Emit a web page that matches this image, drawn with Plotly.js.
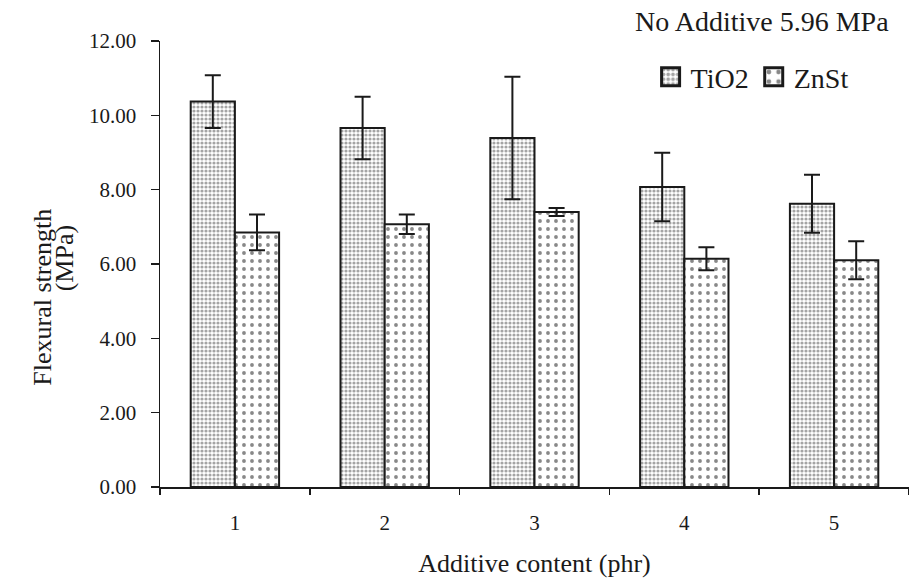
<!DOCTYPE html>
<html>
<head>
<meta charset="utf-8">
<script src="https://cdn.plot.ly/plotly-3.0.1.min.js"></script>
<style>
  html, body { margin: 0; padding: 0; background: #ffffff; }
  #chart { width: 909px; height: 578px; }
</style>
</head>
<body>
<div id="chart"></div>
<script>
// ---- data ----
var categories = ['1', '2', '3', '4', '5'];
var tio2Values = [10.37, 9.66, 9.39, 8.07, 7.62];
var tio2Errors = [0.71, 0.84, 1.65, 0.92, 0.78];
var znstValues = [6.85, 7.07, 7.40, 6.14, 6.10];
var znstErrors = [0.48, 0.26, 0.11, 0.31, 0.51];
var seriesNames = ['TiO2', 'ZnSt'];
var yTickValues = [0, 2, 4, 6, 8, 10, 12];
var xTitle = 'Additive content (phr)';
var yTitleLine1 = 'Flexural strength';
var yTitleLine2 = '(MPa)';
var noteText = 'No Additive 5.96 MPa';

var serif = "'Liberation Serif', 'Times New Roman', serif";
var ink = '#1a1a1a';

var traces = [
  {
    type: 'bar',
    name: seriesNames[0],
    x: categories,
    y: tio2Values,
    error_y: { type: 'data', array: tio2Errors, visible: true, color: ink, thickness: 2, width: 8 },
    marker: {
      color: '#ffffff',
      line: { color: ink, width: 2 },
      pattern: { shape: '.', size: 4, solidity: 0.5, fgcolor: '#4a4a4a', bgcolor: '#ffffff', fillmode: 'overlay' }
    }
  },
  {
    type: 'bar',
    name: seriesNames[1],
    x: categories,
    y: znstValues,
    error_y: { type: 'data', array: znstErrors, visible: true, color: ink, thickness: 2, width: 8 },
    marker: {
      color: '#ffffff',
      line: { color: ink, width: 2 },
      pattern: { shape: '.', size: 8, solidity: 0.18, fgcolor: '#111111', bgcolor: '#ffffff', fillmode: 'overlay' }
    }
  }
];

var layout = {
  width: 909,
  height: 578,
  margin: { l: 160, r: 0, t: 41, b: 91 },
  paper_bgcolor: '#ffffff',
  plot_bgcolor: '#ffffff',
  font: { family: serif, color: ink, size: 21 },
  barmode: 'group',
  bargap: 0.41,
  bargroupgap: 0,
  showlegend: true,
  legend: {
    orientation: 'h',
    x: 0.655, xanchor: 'left',
    y: 0.919, yanchor: 'middle',
    font: { family: serif, size: 28, color: ink },
    bgcolor: 'rgba(0,0,0,0)',
    borderwidth: 0,
    itemclick: false
  },
  xaxis: {
    type: 'category',
    tickson: 'boundaries',
    ticks: 'outside',
    ticklen: 6,
    tickwidth: 1.5,
    tickcolor: ink,
    showline: true,
    linecolor: ink,
    linewidth: 1.5,
    showgrid: false,
    zeroline: false,
    ticklabelstandoff: 16,
    tickfont: { family: serif, size: 21, color: ink },
    title: { text: xTitle, font: { family: serif, size: 26, color: ink }, standoff: 22 }
  },
  yaxis: {
    range: [0, 12],
    tickmode: 'array',
    tickvals: yTickValues,
    tickformat: '.2f',
    ticks: 'outside',
    ticklen: 8,
    tickwidth: 1.5,
    tickcolor: ink,
    showline: true,
    linecolor: ink,
    linewidth: 1.5,
    showgrid: false,
    zeroline: false,
    ticklabelstandoff: 10,
    tickfont: { family: serif, size: 21, color: ink }
  },
  annotations: [
    {
      text: yTitleLine1, textangle: -90, showarrow: false,
      xref: 'paper', yref: 'paper', x: -0.158, y: 0.426,
      xanchor: 'center', yanchor: 'middle',
      font: { family: serif, size: 26, color: ink }
    },
    {
      text: yTitleLine2, textangle: -90, showarrow: false,
      xref: 'paper', yref: 'paper', x: -0.128, y: 0.513,
      xanchor: 'center', yanchor: 'middle',
      font: { family: serif, size: 26, color: ink }
    },
    {
      text: noteText, showarrow: false,
      xref: 'paper', yref: 'paper', x: 0.976, y: 1.043,
      xanchor: 'right', yanchor: 'middle',
      font: { family: serif, size: 28, color: ink }
    }
  ]
};

Plotly.newPlot('chart', traces, layout, { displayModeBar: false, staticPlot: true }).then(function () {
  document.querySelectorAll('.legendpoints path').forEach(function (p) {
    var t = p.getAttribute('transform') || '';
    p.setAttribute('transform', t + ' scale(1.5)');
  });
});
</script>
</body>
</html>
